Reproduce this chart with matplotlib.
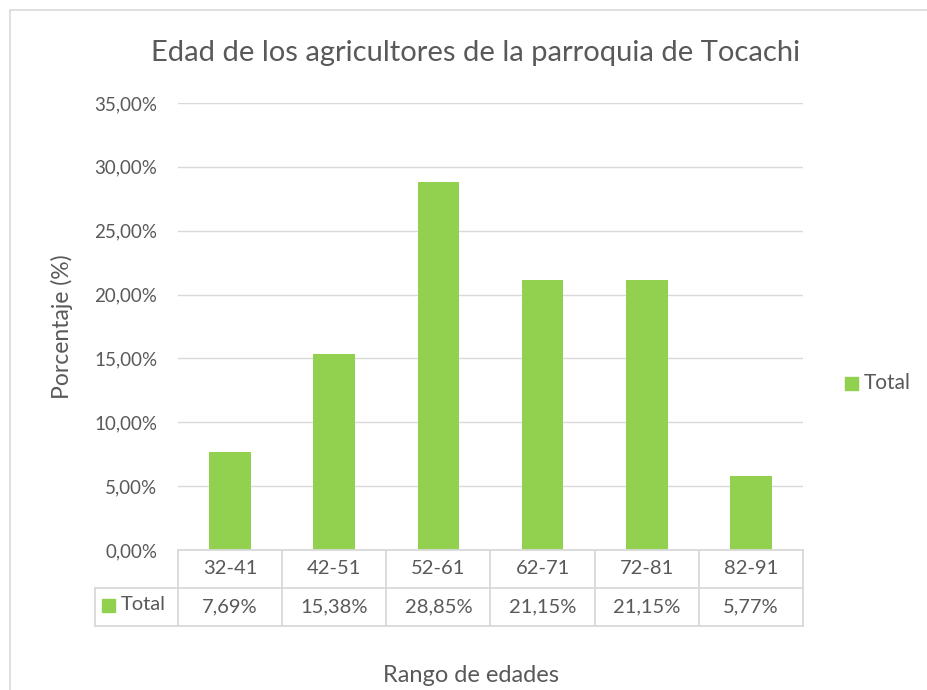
import matplotlib
matplotlib.use("Agg")
import matplotlib.pyplot as plt
from matplotlib.lines import Line2D
from matplotlib.patches import Rectangle
from matplotlib.ticker import FuncFormatter
import matplotlib.transforms as mtransforms

categories = ["32-41", "42-51", "52-61", "62-71", "72-81", "82-91"]
values = [7.69, 15.38, 28.85, 21.15, 21.15, 5.77]
value_labels = ["7,69%", "15,38%", "28,85%", "21,15%", "21,15%", "5,77%"]
series_name = "Total"
title = "Edad de los agricultores de la parroquia de Tocachi"
ylabel = "Porcentaje (%)"
xlabel = "Rango de edades"

GREEN = "#92D050"
GRID = "#D9D9D9"
TXT = "#595959"
FONT = ["Lato", "DejaVu Sans"]
plt.rcParams["font.family"] = FONT

W, H = 927, 690
fig = plt.figure(figsize=(W / 100, H / 100), dpi=100)

def fx(px):
    return px / W

def fy(py):
    return 1 - py / H

# outer chart border
fig.add_artist(Rectangle((fx(10), fy(700)), fx(930) - fx(10), fy(10) - fy(700),
                         transform=fig.transFigure, fill=False, edgecolor=GRID, lw=1.2))

L, R, T, B = 178, 803, 103, 550
ax = fig.add_axes([fx(L), fy(B), fx(R) - fx(L), fy(T) - fy(B)])

x = list(range(len(categories)))
ax.bar(x, [v / 100 for v in values], width=0.4, color=GREEN, zorder=3)
ax.set_xlim(-0.5, len(categories) - 0.5)
ax.set_ylim(0, 0.35)
ax.set_yticks([i * 0.05 for i in range(8)])
ax.yaxis.set_major_formatter(FuncFormatter(lambda v, p: f"{v*100:.2f}%".replace(".", ",")))
ax.tick_params(axis="y", length=0, labelsize=13.5, labelcolor=TXT, pad=15)
ax.set_xticks([])
ax.grid(axis="y", color=GRID, lw=1, zorder=0)
for s in ax.spines.values():
    s.set_visible(False)

# data table
axh = B - T
row = 38 / axh
trans = mtransforms.blended_transform_factory(ax.transData, ax.transAxes)
lkw = dict(color=GRID, lw=1.3, clip_on=False, zorder=4)
left_frac = (95 - L) / (R - L)
ax.add_line(Line2D([0, 1], [0, 0], transform=ax.transAxes, **lkw))
ax.add_line(Line2D([left_frac, 1], [-row, -row], transform=ax.transAxes, **lkw))
ax.add_line(Line2D([left_frac, 1], [-2 * row, -2 * row], transform=ax.transAxes, **lkw))
ax.add_line(Line2D([left_frac, left_frac], [-row, -2 * row], transform=ax.transAxes, **lkw))
for i in range(len(categories) + 1):
    ax.add_line(Line2D([i - 0.5, i - 0.5], [0, -2 * row], transform=trans, **lkw))
for i, (c, v) in enumerate(zip(categories, value_labels)):
    ax.text(i, -row / 2, c, transform=trans, ha="center", va="center",
            fontsize=14.5, color=TXT)
    ax.text(i, -1.5 * row, v, transform=trans, ha="center", va="center",
            fontsize=14.5, color=TXT)
# legend key in table
ax.add_patch(Rectangle((fx(102), fy(612)), fx(13), fy(599) - fy(612), transform=fig.transFigure,
                       color=GREEN, clip_on=False))
fig.text(fx(121), fy(605), series_name, ha="left", va="center", fontsize=14.5, color=TXT)

# legend
fig.add_artist(Rectangle((fx(845), fy(390)), fx(13), fy(377) - fy(390), transform=fig.transFigure,
                         color=GREEN))
fig.text(fx(864), fy(383), series_name, ha="left", va="center", fontsize=15, color=TXT)

# titles
fig.text(fx(476), fy(53), title, ha="center", va="center", fontsize=21, color=TXT)
fig.text(fx(62), fy(327), ylabel, ha="center", va="center", rotation=90, fontsize=16.5, color=TXT)
fig.text(fx(471), fy(676), xlabel, ha="center", va="center", fontsize=17, color=TXT)

fig.savefig("out.png", dpi=100, facecolor="white")
